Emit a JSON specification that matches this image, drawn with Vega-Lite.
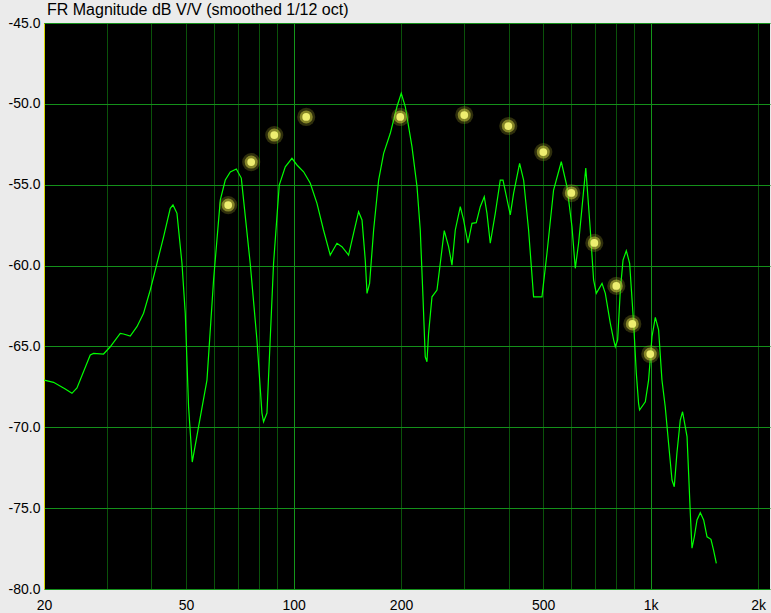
{
  "$schema": "https://vega.github.io/schema/vega-lite/v6.json",
  "width": 726,
  "height": 566,
  "autosize": {"type": "none"},
  "padding": {"left": 44, "top": 23, "right": 1, "bottom": 24},
  "background": "#ebebeb",
  "config": {
    "view": {"fill": "#000000", "stroke": null},
    "font": "Liberation Sans"
  },
  "title": {
    "text": "FR Magnitude dB V/V (smoothed 1/12 oct)",
    "anchor": "start",
    "frame": "group",
    "dx": 3,
    "offset": -15,
    "baseline": "alphabetic",
    "fontSize": 16,
    "fontWeight": "normal",
    "font": "Liberation Sans",
    "color": "#000000"
  },
  "datasets": {
    "curve": [
      {"f": 20.03, "db": -67.08}, {"f": 21.27, "db": -67.22}, {"f": 22.94, "db": -67.63}, {"f": 23.95, "db": -67.90},
      {"f": 24.74, "db": -67.57}, {"f": 26.95, "db": -65.53}, {"f": 27.54, "db": -65.43}, {"f": 29.36, "db": -65.47},
      {"f": 30.66, "db": -65.02}, {"f": 32.70, "db": -64.19}, {"f": 33.40, "db": -64.23}, {"f": 34.88, "db": -64.36},
      {"f": 36.42, "db": -63.78}, {"f": 38.01, "db": -62.95}, {"f": 39.69, "db": -61.51}, {"f": 41.45, "db": -59.86},
      {"f": 43.25, "db": -58.22}, {"f": 45.15, "db": -56.46}, {"f": 45.95, "db": -56.25}, {"f": 47.15, "db": -56.77},
      {"f": 48.69, "db": -59.86}, {"f": 49.74, "db": -62.95}, {"f": 50.81, "db": -68.73}, {"f": 52.03, "db": -72.15},
      {"f": 54.20, "db": -69.96}, {"f": 57.21, "db": -67.08}, {"f": 59.70, "db": -60.89}, {"f": 62.34, "db": -55.95},
      {"f": 64.39, "db": -54.71}, {"f": 66.50, "db": -54.21}, {"f": 69.13, "db": -54.03}, {"f": 71.39, "db": -54.59},
      {"f": 75.61, "db": -59.86}, {"f": 78.97, "db": -64.60}, {"f": 81.55, "db": -69.12}, {"f": 82.41, "db": -69.66},
      {"f": 84.24, "db": -69.12}, {"f": 87.90, "db": -59.86}, {"f": 91.19, "db": -55.02}, {"f": 94.80, "db": -53.89},
      {"f": 98.97, "db": -53.37}, {"f": 102.2, "db": -53.78}, {"f": 106.7, "db": -54.20}, {"f": 111.4, "db": -54.91},
      {"f": 116.3, "db": -56.15}, {"f": 121.3, "db": -57.80}, {"f": 126.7, "db": -59.35}, {"f": 132.3, "db": -58.62},
      {"f": 136.6, "db": -58.83}, {"f": 142.6, "db": -59.35}, {"f": 147.3, "db": -58.00}, {"f": 152.1, "db": -56.67},
      {"f": 155.5, "db": -57.18}, {"f": 158.8, "db": -59.66}, {"f": 160.6, "db": -61.72}, {"f": 163.3, "db": -61.10},
      {"f": 167.6, "db": -57.80}, {"f": 173.1, "db": -54.71}, {"f": 178.8, "db": -53.06}, {"f": 186.6, "db": -51.82},
      {"f": 194.8, "db": -50.18}, {"f": 200.3, "db": -49.35}, {"f": 205.6, "db": -50.18}, {"f": 214.6, "db": -52.65},
      {"f": 221.7, "db": -55.12}, {"f": 226.4, "db": -57.80}, {"f": 230.4, "db": -61.93}, {"f": 233.8, "db": -65.64},
      {"f": 236.4, "db": -65.95}, {"f": 238.9, "db": -64.19}, {"f": 244.2, "db": -61.93}, {"f": 252.2, "db": -61.51},
      {"f": 257.6, "db": -59.86}, {"f": 264.3, "db": -57.84}, {"f": 271.8, "db": -58.83}, {"f": 277.8, "db": -59.97},
      {"f": 283.8, "db": -57.80}, {"f": 293.1, "db": -56.36}, {"f": 299.4, "db": -57.18}, {"f": 308.0, "db": -58.62},
      {"f": 316.0, "db": -57.39}, {"f": 324.9, "db": -57.35}, {"f": 333.4, "db": -56.36}, {"f": 342.1, "db": -55.74},
      {"f": 348.1, "db": -56.77}, {"f": 355.6, "db": -58.62}, {"f": 367.3, "db": -56.77}, {"f": 379.3, "db": -54.71},
      {"f": 386.0, "db": -54.71}, {"f": 404.6, "db": -56.87}, {"f": 413.3, "db": -55.53}, {"f": 429.7, "db": -53.68},
      {"f": 440.9, "db": -54.71}, {"f": 455.3, "db": -57.80}, {"f": 470.2, "db": -61.93}, {"f": 496.3, "db": -61.93},
      {"f": 512.6, "db": -59.24}, {"f": 534.9, "db": -55.33}, {"f": 562.2, "db": -53.58}, {"f": 583.2, "db": -55.12},
      {"f": 602.3, "db": -57.60}, {"f": 615.3, "db": -60.17}, {"f": 628.5, "db": -58.62}, {"f": 639.6, "db": -56.87},
      {"f": 658.4, "db": -53.97}, {"f": 677.9, "db": -57.80}, {"f": 692.4, "db": -60.89}, {"f": 704.7, "db": -61.72},
      {"f": 731.1, "db": -61.10}, {"f": 746.8, "db": -61.72}, {"f": 771.3, "db": -63.57}, {"f": 788.0, "db": -64.60},
      {"f": 796.6, "db": -65.02}, {"f": 808.6, "db": -64.60}, {"f": 822.7, "db": -61.51}, {"f": 837.2, "db": -59.66},
      {"f": 855.1, "db": -59.08}, {"f": 873.6, "db": -59.86}, {"f": 896.4, "db": -63.57}, {"f": 912.0, "db": -66.66},
      {"f": 925.5, "db": -68.52}, {"f": 931.5, "db": -68.93}, {"f": 966.5, "db": -68.42}, {"f": 987.2, "db": -67.08},
      {"f": 1009, "db": -64.40}, {"f": 1031, "db": -63.20}, {"f": 1053, "db": -63.98}, {"f": 1076, "db": -67.08},
      {"f": 1099, "db": -68.73}, {"f": 1123, "db": -70.99}, {"f": 1148, "db": -73.26}, {"f": 1165, "db": -73.68},
      {"f": 1185, "db": -71.61}, {"f": 1211, "db": -69.55}, {"f": 1229, "db": -69.04}, {"f": 1265, "db": -70.58},
      {"f": 1278, "db": -72.85}, {"f": 1292, "db": -75.32}, {"f": 1306, "db": -77.48}, {"f": 1326, "db": -76.77},
      {"f": 1349, "db": -75.73}, {"f": 1378, "db": -75.28}, {"f": 1408, "db": -75.73}, {"f": 1439, "db": -76.77},
      {"f": 1476, "db": -76.93}, {"f": 1501, "db": -77.59}, {"f": 1528, "db": -78.41}
    ],
    "dots": [
      {"f": 65.6, "db": -56.26}, {"f": 76.1, "db": -53.60}, {"f": 88.3, "db": -51.93}, {"f": 108.5, "db": -50.81},
      {"f": 199, "db": -50.81}, {"f": 300.7, "db": -50.69}, {"f": 399.5, "db": -51.37}, {"f": 500.6, "db": -52.98},
      {"f": 599.8, "db": -55.51}, {"f": 695.7, "db": -58.60}, {"f": 801.6, "db": -61.26}, {"f": 888.8, "db": -63.61},
      {"f": 998, "db": -65.47}
    ]
  },
  "encoding": {
    "x": {
      "field": "f",
      "type": "quantitative",
      "scale": {"type": "log", "domain": [20, 2160], "nice": false},
      "axis": {
        "title": null,
        "values": [20, 30, 40, 50, 60, 70, 80, 90, 100, 200, 300, 400, 500, 600, 700, 800, 900, 1000, 2000],
        "labelExpr": "indexof([20,50,100,200,500,1000,2000], datum.value) >= 0 ? (datum.value >= 1000 ? (datum.value/1000) + 'k' : '' + datum.value) : ''",
        "grid": true,
        "gridColor": {"condition": {"test": "datum.value == 100 || datum.value == 1000", "value": "#14961a"}, "value": "#0a520a"},
        "gridWidth": 1,
        "ticks": false,
        "domain": false,
        "labelFontSize": 14,
        "labelColor": "#000000",
        "labelPadding": 9,
        "labelBaseline": "top",
        "labelFlush": false,
        "labelOverlap": false,
        "labelBound": false
      }
    },
    "y": {
      "field": "db",
      "type": "quantitative",
      "scale": {"domain": [-80, -45], "nice": false, "zero": false},
      "axis": {
        "title": null,
        "values": [-80, -75, -70, -65, -60, -55, -50, -45],
        "labelExpr": "'-' + format(abs(datum.value), '.1f')",
        "grid": true,
        "gridColor": "#14901a",
        "gridWidth": 1,
        "ticks": false,
        "domain": true,
        "domainColor": "#d8d800",
        "domainWidth": 1,
        "labelFontSize": 14,
        "labelColor": "#000000",
        "labelPadding": 4,
        "labelFlush": false,
        "labelOverlap": false
      }
    }
  },
  "layer": [
    {
      "data": {"name": "curve"},
      "mark": {"type": "line", "color": "#00ff00", "strokeWidth": 1.2, "interpolate": "linear"}
    },
    {
      "data": {"name": "dots"},
      "mark": {"type": "circle", "size": 330, "color": "#9a9a28", "opacity": 0.3}
    },
    {
      "data": {"name": "dots"},
      "mark": {"type": "circle", "size": 170, "color": "#c0c03c", "opacity": 0.6}
    },
    {
      "data": {"name": "dots"},
      "mark": {"type": "circle", "size": 60, "color": "#eeee70", "opacity": 1}
    }
  ]
}
